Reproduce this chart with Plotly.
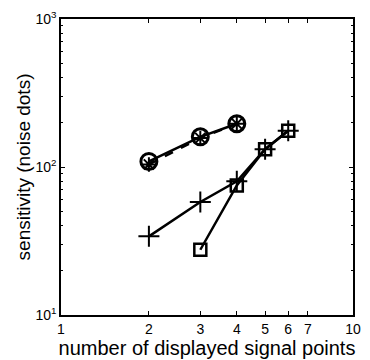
import plotly.graph_objects as go

# data
x_circle = [2, 3, 4]
y_circle = [109, 160, 196]
x_star = [2, 3, 4]
y_star = [104, 157, 196]
x_plus = [2, 3, 4, 5, 6]
y_plus = [34, 58, 80, 132, 176]
x_square = [3, 4, 5, 6]
y_square = [27.6, 75, 132, 176]

x_tickvals = [1, 2, 3, 4, 5, 6, 7, 10]
x_ticktext = ["1", "2", "3", "4", "5", "6", "7", "10"]
y_tickvals = [10, 100, 1000]
y_ticktext = ["10<sup>1</sup>", "10<sup>2</sup>", "10<sup>3</sup>"]

fig = go.Figure()
fig.add_trace(go.Scatter(x=x_circle, y=y_circle, mode="lines+markers",
                         line=dict(color="black", width=2.5),
                         marker=dict(symbol="circle-open", size=16, color="black",
                                     line=dict(width=3, color="black"))))
fig.add_trace(go.Scatter(x=x_star, y=y_star, mode="lines+markers",
                         line=dict(color="black", width=2.5, dash="dash"),
                         marker=dict(symbol="asterisk-open", size=12, color="black",
                                     line=dict(width=2, color="black"))))
fig.add_trace(go.Scatter(x=x_plus, y=y_plus, mode="lines+markers",
                         line=dict(color="black", width=2.5),
                         marker=dict(symbol="cross-thin-open", size=15, color="black",
                                     line=dict(width=2, color="black"))))
fig.add_trace(go.Scatter(x=x_square, y=y_square, mode="lines+markers",
                         line=dict(color="black", width=2.5),
                         marker=dict(symbol="square-open", size=12, color="black",
                                     line=dict(width=2.5, color="black"))))

font = "Liberation Sans, Arial, sans-serif"
fig.update_layout(
    width=370, height=360,
    margin=dict(l=61, r=9, t=17, b=42),
    paper_bgcolor="white", plot_bgcolor="white",
    showlegend=False,
    font=dict(family=font, color="black", size=14),
)
fig.update_xaxes(type="log", range=[0, 1], tickvals=x_tickvals, ticktext=x_ticktext,
                 ticks="inside", ticklen=4, tickcolor="black",
                 showline=True, linecolor="black", linewidth=1.5, mirror="ticks",
                 showgrid=False, zeroline=False,
                 tickfont=dict(size=14),
                 title=dict(text="number of displayed signal points", font=dict(size=20), standoff=0))
fig.update_yaxes(type="log", range=[1, 3], tickvals=y_tickvals, ticktext=y_ticktext,
                 ticks="inside", ticklen=4, tickcolor="black",
                 minor=dict(ticks="inside", ticklen=2, tickcolor="black",
                            tickvals=[20, 30, 40, 50, 60, 70, 80, 90, 200, 300, 400, 500, 600, 700, 800, 900]),
                 showline=True, linecolor="black", linewidth=1.5, mirror="ticks",
                 showgrid=False, zeroline=False,
                 tickfont=dict(size=14),
                 title=dict(text="sensitivity (noise dots)", font=dict(size=19), standoff=0))

fig.write_html("out.html")
